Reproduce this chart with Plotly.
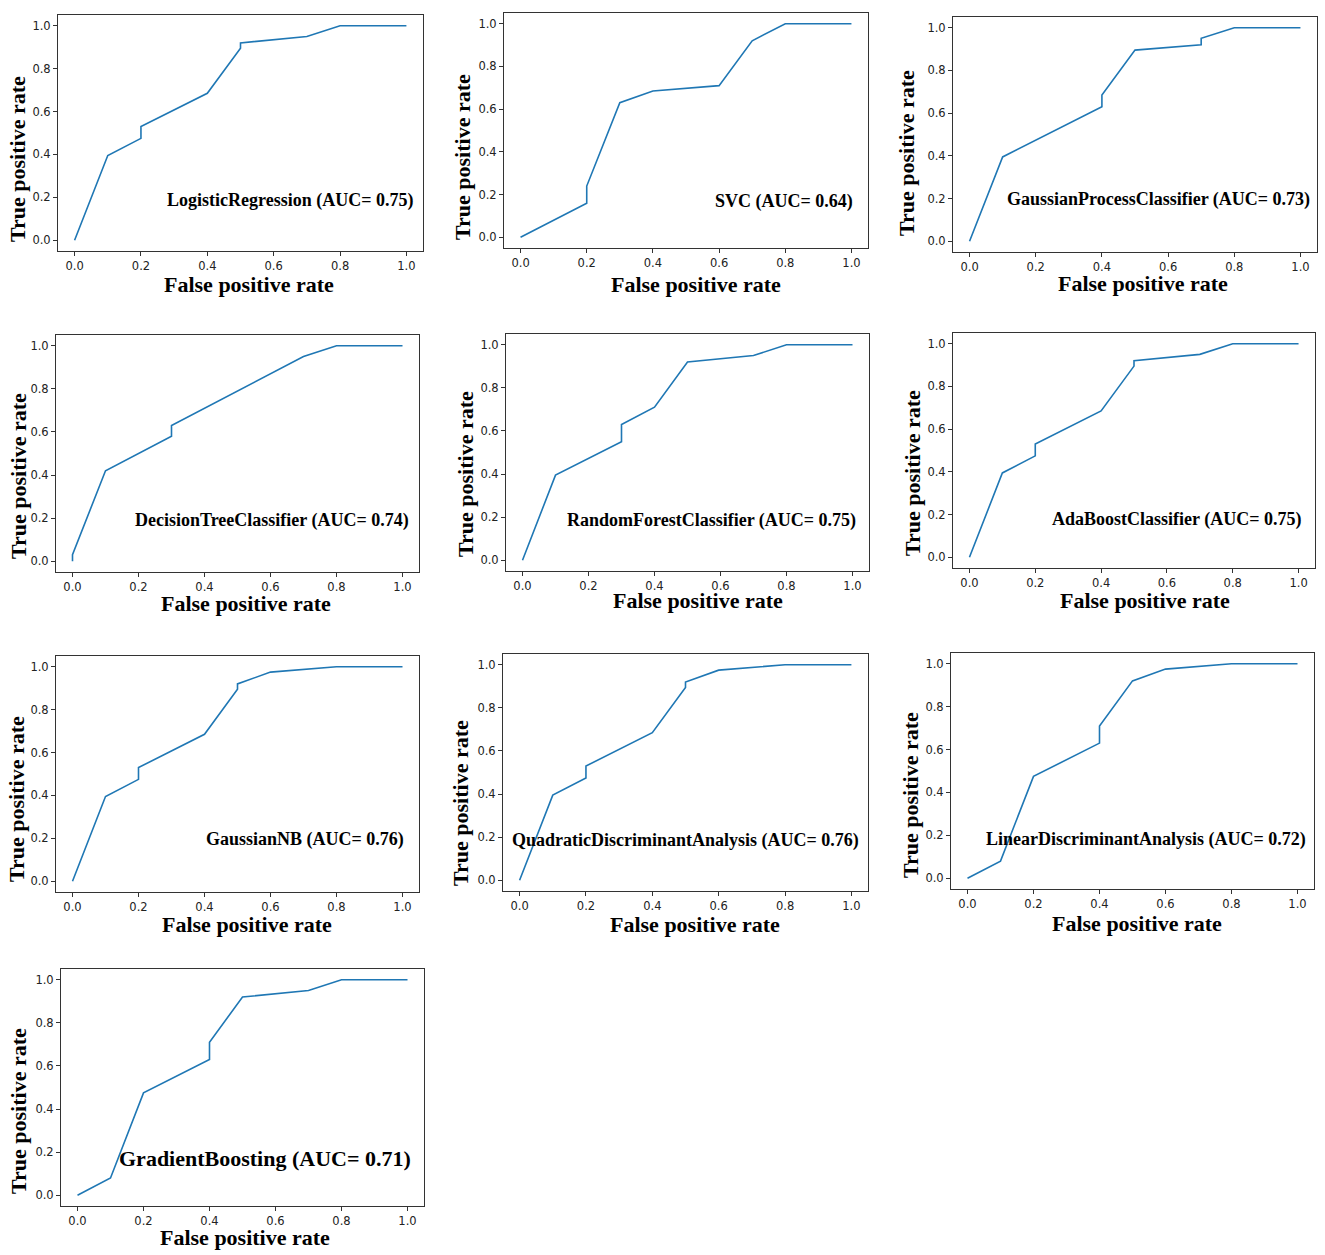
import plotly.graph_objects as go

W, H = 1325, 1255

# ROC points
lr_fpr = [0.0, 0.1, 0.2, 0.2, 0.4, 0.5, 0.5, 0.7, 0.8, 1.0]
lr_tpr = [0.0, 0.395, 0.475, 0.53, 0.685, 0.895, 0.92, 0.95, 1.0, 1.0]

svc_fpr = [0.0, 0.2, 0.2, 0.3, 0.4, 0.6, 0.7, 0.8, 1.0]
svc_tpr = [0.0, 0.16, 0.24, 0.63, 0.685, 0.71, 0.92, 1.0, 1.0]

gpc_fpr = [0.0, 0.1, 0.4, 0.4, 0.5, 0.7, 0.7, 0.8, 1.0]
gpc_tpr = [0.0, 0.395, 0.63, 0.685, 0.895, 0.92, 0.95, 1.0, 1.0]

dt_fpr = [0.0, 0.0, 0.1, 0.3, 0.3, 0.7, 0.8, 1.0]
dt_tpr = [0.0, 0.03, 0.42, 0.58, 0.63, 0.95, 1.0, 1.0]

rf_fpr = [0.0, 0.1, 0.3, 0.3, 0.4, 0.5, 0.7, 0.8, 1.0]
rf_tpr = [0.0, 0.395, 0.55, 0.63, 0.71, 0.92, 0.95, 1.0, 1.0]

ada_fpr = [0.0, 0.1, 0.2, 0.2, 0.4, 0.5, 0.5, 0.7, 0.8, 1.0]
ada_tpr = [0.0, 0.395, 0.475, 0.53, 0.685, 0.895, 0.92, 0.95, 1.0, 1.0]

gnb_fpr = [0.0, 0.1, 0.2, 0.2, 0.4, 0.5, 0.5, 0.6, 0.8, 1.0]
gnb_tpr = [0.0, 0.395, 0.475, 0.53, 0.685, 0.895, 0.92, 0.975, 1.0, 1.0]

qda_fpr = [0.0, 0.1, 0.2, 0.2, 0.4, 0.5, 0.5, 0.6, 0.8, 1.0]
qda_tpr = [0.0, 0.395, 0.475, 0.53, 0.685, 0.895, 0.92, 0.975, 1.0, 1.0]

lda_fpr = [0.0, 0.1, 0.2, 0.4, 0.4, 0.5, 0.6, 0.8, 1.0]
lda_tpr = [0.0, 0.08, 0.475, 0.63, 0.71, 0.92, 0.975, 1.0, 1.0]

gb_fpr = [0.0, 0.1, 0.2, 0.4, 0.4, 0.5, 0.7, 0.8, 1.0]
gb_tpr = [0.0, 0.08, 0.475, 0.63, 0.71, 0.92, 0.95, 1.0, 1.0]

labels = [
    "LogisticRegression (AUC= 0.75)",
    "SVC (AUC= 0.64)",
    "GaussianProcessClassifier (AUC= 0.73)",
    "DecisionTreeClassifier (AUC= 0.74)",
    "RandomForestClassifier (AUC= 0.75)",
    "AdaBoostClassifier (AUC= 0.75)",
    "GaussianNB (AUC= 0.76)",
    "QuadraticDiscriminantAnalysis (AUC= 0.76)",
    "LinearDiscriminantAnalysis (AUC= 0.72)",
    "GradientBoosting (AUC= 0.71)",
]
curves = [(lr_fpr, lr_tpr), (svc_fpr, svc_tpr), (gpc_fpr, gpc_tpr),
          (dt_fpr, dt_tpr), (rf_fpr, rf_tpr), (ada_fpr, ada_tpr),
          (gnb_fpr, gnb_tpr), (qda_fpr, qda_tpr), (lda_fpr, lda_tpr),
          (gb_fpr, gb_tpr)]

# layout of the pasted panels (pixels): frame box, label spot, axis title spots
boxes = [(58, 15, 423, 251), (504, 13, 868, 248), (953, 17, 1317, 252),
         (56, 335, 419, 572), (506, 334, 869, 571), (953, 333, 1315, 568),
         (56, 656, 419, 892), (503, 654, 868, 891), (951, 653, 1314, 889),
         (61, 969, 424, 1206)]
label_pos = [(0.978, 0.216), (0.963, 0.198), (0.986, 0.222), (0.977, 0.218),
             (0.969, 0.214), (0.968, 0.205), (0.963, 0.221), (0.981, 0.214),
             (0.983, 0.209), (0.971, 0.2)]
label_size = [18, 18, 18, 18, 18, 18, 18, 18, 18, 22]
xtitle_pos = [(249, 284), (696, 284), (1143, 283), (246, 603), (698, 601),
              (1145, 601), (247, 924), (695, 924), (1137, 923), (245, 1237)]
ytitle_pos = [(18, 159), (463, 157), (907, 153), (18, 476), (466, 474),
              (912, 473), (16, 799), (460, 803), (910, 795), (18, 1111)]

serif = dict(family="Liberation Serif, Times New Roman, serif", color="black", weight="bold")

fig = go.Figure()
annotations = []
axes = {}
for i, (fpr, tpr) in enumerate(curves):
    n = i + 1
    sfx = "" if n == 1 else str(n)
    fig.add_trace(go.Scatter(x=fpr, y=tpr, mode="lines", xaxis="x" + sfx, yaxis="y" + sfx,
                             line=dict(color="#1f77b4", width=1.6), showlegend=False,
                             hoverinfo="skip"))
    l, t, r, b = boxes[i]
    common = dict(range=[-0.05, 1.05], showgrid=False, zeroline=False, showline=True,
                  mirror=True, linecolor="#333333", linewidth=1, ticks="outside",
                  ticklen=4, tickcolor="#333333", tickvals=[0, 0.2, 0.4, 0.6, 0.8, 1.0],
                  tickformat=".1f", fixedrange=True,
                  tickfont=dict(family="DejaVu Sans, sans-serif", size=11.5, color="#222222"))
    axes["xaxis" + sfx] = dict(common, domain=[l / W, r / W], anchor="y" + sfx)
    axes["yaxis" + sfx] = dict(common, domain=[1 - b / H, 1 - t / H], anchor="x" + sfx)

    lx, ly = label_pos[i]
    annotations.append(dict(text=labels[i], xref="x" + sfx + " domain", yref="y" + sfx + " domain",
                            x=lx, y=ly, xanchor="right", yanchor="middle", showarrow=False,
                            font=dict(serif, size=label_size[i])))
    tx, ty = xtitle_pos[i]
    annotations.append(dict(text="False positive rate", xref="paper", yref="paper",
                            x=tx / W, y=1 - ty / H, xanchor="center", yanchor="middle",
                            showarrow=False, font=dict(serif, size=22)))
    yx, yy = ytitle_pos[i]
    annotations.append(dict(text="True positive rate", xref="paper", yref="paper",
                            x=yx / W, y=1 - yy / H, xanchor="center", yanchor="middle",
                            textangle=-90, showarrow=False, font=dict(serif, size=22)))

fig.update_layout(width=W, height=H, margin=dict(l=0, r=0, t=0, b=0),
                  paper_bgcolor="white", plot_bgcolor="white",
                  annotations=annotations, **axes)

fig.write_html("out.html", config={"displayModeBar": False},
               post_script="document.body.style.margin='0px';")
